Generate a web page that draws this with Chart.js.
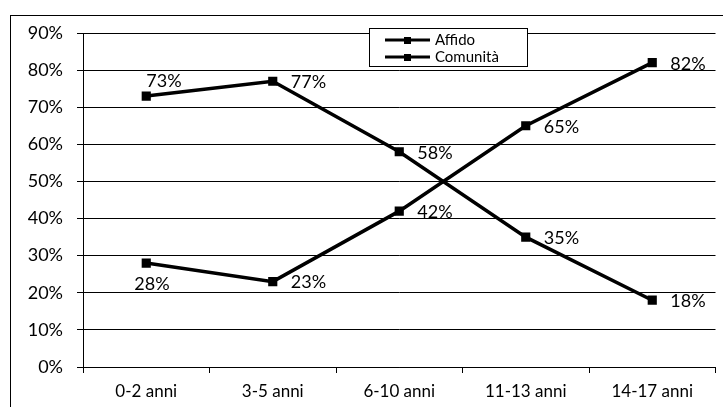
<!DOCTYPE html>
<html>
<head>
<meta charset="utf-8">
<script src="https://cdn.jsdelivr.net/npm/chart.js@4"></script>
<style>
  html, body { margin: 0; padding: 0; background: #fff; }
  #wrap { position: relative; width: 723px; height: 407px; overflow: hidden; }
  #frame { position: absolute; left: 10px; top: 15px; width: 800px; height: 500px; border: 1px solid #000; }
  canvas { position: absolute; left: 0; top: 0; }
</style>
</head>
<body>
<div id="wrap">
  <div id="frame"></div>
  <canvas id="grafico" width="723" height="407"></canvas>
</div>
<script>
const categorie = ['0-2 anni', '3-5 anni', '6-10 anni', '11-13 anni', '14-17 anni'];
const affido = [73, 77, 58, 35, 18];
const comunita = [28, 23, 42, 65, 82];
const nomiSerie = ['Affido', 'Comunità'];
// dove mettere l'etichetta di ogni punto
const posEtichette = [
    ['above', 'right', 'right', 'right', 'right'],
    ['below', 'right', 'right', 'right', 'right']
];

const FONT = 'Lato, "Open Sans", sans-serif';

const etichettePlugin = {
    id: 'etichette',
    afterDatasetsDraw(chart) {
        const ctx = chart.ctx;
        ctx.save();
        ctx.font = '18px ' + FONT;
        ctx.fillStyle = '#000';
        ctx.textBaseline = 'middle';
        chart.data.datasets.forEach((ds, i) => {
            chart.getDatasetMeta(i).data.forEach((pt, j) => {
                const testo = ds.data[j] + '%';
                const pos = posEtichette[i][j];
                let x = pt.x + 18, y = pt.y + 1;
                if (pos === 'above') { x = pt.x + 0; y = pt.y - 15; }
                if (pos === 'below') { x = pt.x - 12; y = pt.y + 21; }
                ctx.textAlign = 'left';
                ctx.fillText(testo, x, y);
            });
        });
        ctx.restore();
    }
};

const legendaPlugin = {
    id: 'legendaInterna',
    afterDraw(chart) {
        const ctx = chart.ctx;
        const bx = 369, by = 28, bw = 158, bh = 38;
        ctx.save();
        ctx.fillStyle = '#fff';
        ctx.fillRect(bx, by, bw, bh);
        ctx.strokeStyle = '#000';
        ctx.lineWidth = 1;
        ctx.strokeRect(bx + 0.5, by + 0.5, bw, bh);
        ctx.font = '15px ' + FONT;
        ctx.textBaseline = 'middle';
        ctx.fillStyle = '#000';
        chart.data.datasets.forEach((ds, i) => {
            const y = by + 12 + i * 17;
            ctx.beginPath();
            ctx.lineWidth = 3;
            ctx.moveTo(bx + 16, y);
            ctx.lineTo(bx + 61, y);
            ctx.stroke();
            ctx.fillRect(bx + 35, y - 3, 7, 7);
            ctx.fillText(ds.label, bx + 66, y);
        });
        ctx.restore();
    }
};

const ctx = document.getElementById('grafico').getContext('2d');
new Chart(ctx, {
    type: 'line',
    data: {
        labels: categorie,
        datasets: [{
            label: nomiSerie[0],
            data: affido,
            borderColor: '#000',
            backgroundColor: '#000',
            borderWidth: 3.5,
            pointStyle: 'rect',
            pointRadius: 4,
            tension: 0
        }, {
            label: nomiSerie[1],
            data: comunita,
            borderColor: '#000',
            backgroundColor: '#000',
            borderWidth: 3.5,
            pointStyle: 'rect',
            pointRadius: 4,
            tension: 0
        }]
    },
    options: {
        responsive: false,
        animation: false,
        layout: { padding: { top: 33, right: 6, left: 0, bottom: 0 } },
        plugins: {
            legend: { display: false },
            tooltip: { enabled: false }
        },
        scales: {
            x: {
                offset: true,
                grid: { drawOnChartArea: false, drawTicks: true, offset: true, tickLength: 6, color: '#000' },
                border: { display: true, color: '#000', width: 1 },
                ticks: { color: '#000', font: { size: 17, family: FONT }, padding: 8, maxRotation: 0 },
                afterFit(scale) { scale.height = 40; }
            },
            y: {
                min: 0,
                max: 90,
                grid: { color: '#000', lineWidth: 1, tickLength: 6 },
                border: { display: true, color: '#000', width: 1 },
                ticks: {
                    stepSize: 10,
                    color: '#000',
                    padding: 14,
                    font: { size: 18, family: FONT },
                    callback: v => v + '%'
                },
                afterFit(scale) { scale.width = 83; }
            }
        }
    },
    plugins: [etichettePlugin, legendaPlugin]
});
</script>
</body>
</html>
